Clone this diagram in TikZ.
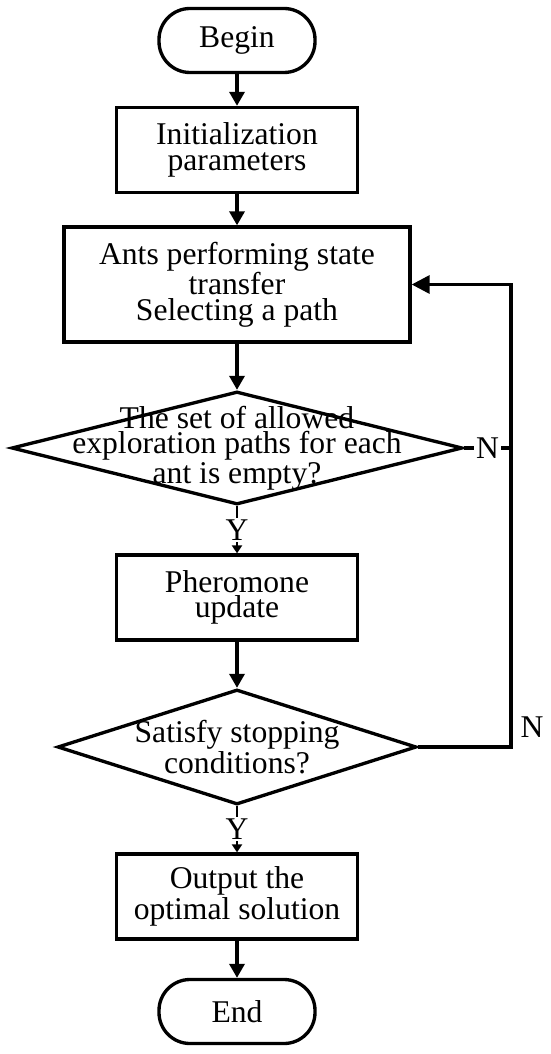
\documentclass[tikz,border=0pt]{standalone}
\usepackage{fontspec}
\setmainfont{Liberation Serif}
\usetikzlibrary{shapes,arrows.meta,positioning}

\begin{document}
\begin{tikzpicture}[line width=1.9pt,
every node/.style={align=center,font=\fontsize{18}{14.4}\selectfont},
proc/.style={draw,rectangle,minimum width=4.82cm,minimum height=1.7cm},
term/.style={draw,rectangle,rounded corners=0.62cm,minimum width=3.12cm,minimum height=1.28cm},
decision/.style={draw,diamond,inner sep=0pt},
arr/.style={-{Triangle[width=0.3cm,length=0.28cm]}},
yarr/.style={line width=1.3pt,-{Triangle[width=0.2cm,length=0.16cm]}}]
\useasboundingbox (0,0) rectangle (11,-21.08);
\node[term] (begin) at (4.74,-0.81) {Begin};
\node[proc] (init) at (4.74,-3.0) {Initialization\\parameters};
\node[proc,minimum width=6.92cm,minimum height=2.3cm] (ants) at (4.74,-5.69) {Ants performing state\\transfer\\Selecting a path};
\node[decision,minimum width=9.02cm,minimum height=2.26cm] (empty) at (4.74,-8.96) {};
\node (emptytxt) at (empty) {The set of allowed\\exploration paths for each\\ant is empty?};
\node[proc] (update) at (4.74,-11.95) {Pheromone\\update};
\node[decision,minimum width=7.18cm,minimum height=2.3cm] (stop) at (4.74,-14.94) {};
\node (stoptxt) at (stop) {Satisfy stopping\\conditions?};
\node[proc] (output) at (4.74,-17.93) {Output the\\optimal solution};
\node[term] (end) at (4.74,-20.23) {End};
\coordinate (back) at (10.22,-5.69);
\node (nstop) at (10.64,-14.54) {N};

\draw[arr] (begin) -- (init);
\draw[arr] (init) -- (ants);
\draw[arr] (ants) -- (empty);
\draw[yarr] (empty.south) -- node[fill=white,inner sep=1pt] (yempty) {Y} (update.north);
\draw[arr] (update) -- (stop);
\draw[yarr] (stop.south) -- node[fill=white,inner sep=1pt] (ystop) {Y} (output.north);
\draw[arr] (output) -- (end);
\draw (empty.east) -- node[fill=white,inner sep=1pt] (nempty) {N} (empty.east -| back);
\draw[-{Triangle[width=0.36cm,length=0.36cm]}] (stop.east) -| (back) -- (ants.east);

\end{tikzpicture}
\end{document}
